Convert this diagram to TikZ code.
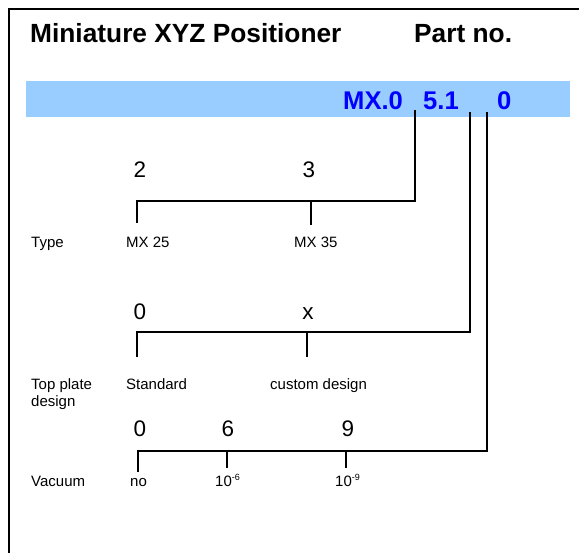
\documentclass[tikz,border=0pt]{standalone}
\usepackage{fontspec}
\setmainfont{Liberation Sans}
\definecolor{bandblue}{RGB}{153,204,255}
\definecolor{partblue}{RGB}{0,0,255}
\newcommand{\supsmall}[1]{\raisebox{6.5pt}{\fontsize{9}{9}\selectfont #1}}
\begin{document}
\begin{tikzpicture}[x=1pt,y=-1pt,
  titletext/.style={font=\fontsize{26.3}{30}\selectfont\bfseries, anchor=base west, inner sep=0},
  codetext/.style={font=\fontsize{25.6}{30}\selectfont\bfseries, text=partblue, anchor=base west, inner sep=0},
  digit/.style={font=\fontsize{22.5}{27}\selectfont, anchor=base, inner sep=0},
  lbl/.style={font=\fontsize{15}{17}\selectfont, anchor=base west, inner sep=0},
  wire/.style={line width=1.5pt},
]
\useasboundingbox (0,0) rectangle (579,553);
\draw[line width=1.8pt] (9,553) -- (9,9) -- (579,9);
\fill[bandblue] (26,81) rectangle (570,117);

\node[titletext] (title) at (30,43) {Miniature XYZ Positioner};
\node[titletext] (partno) at (414,43) {Part no.};
\node[codetext] (c1) at (343,110) {MX.0};
\node[codetext] (c2) at (423,110) {5.1};
\node[codetext] (c3) at (497,110) {0};

% Type
\node[digit] (t2) at (140,178) {2};
\node[digit] (t3) at (309,178) {3};
\node[lbl] (typel) at (31,248) {Type};
\node[lbl] (mx25) at (126,248) {MX 25};
\node[lbl] (mx35) at (294,248) {MX 35};
\coordinate (a0) at (415,110);
\coordinate (a1) at (415,201);
\coordinate (a2) at (137,201);
\coordinate (a3) at (137,223);
\coordinate (am1) at (311,201);
\coordinate (am2) at (311,225);
\draw[wire] (a0) -- (a1) -- (a2) -- (a3);
\draw[wire] (am1) -- (am2);

% Top plate
\node[digit] (p0) at (140,320) {0};
\node[digit] (px) at (308,320) {x};
\node[lbl] (tp1) at (31,390) {Top plate};
\node[lbl] (tp2) at (31,407) {design};
\node[lbl] (std) at (126,390) {Standard};
\node[lbl] (cust) at (270,390) {custom design};
\coordinate (b0) at (470,112);
\coordinate (b1) at (470,332);
\coordinate (b2) at (137,332);
\coordinate (b3) at (137,357);
\coordinate (bm1) at (307,332);
\coordinate (bm2) at (307,357);
\draw[wire] (b0) -- (b1) -- (b2) -- (b3);
\draw[wire] (bm1) -- (bm2);

% Vacuum
\node[digit] (v0) at (140,437) {0};
\node[digit] (v6) at (228,437) {6};
\node[digit] (v9) at (348,437) {9};
\node[lbl] (vac) at (31,487) {Vacuum};
\node[lbl] (vno) at (130,487) {no};
\node[lbl] (v10a) at (215,487) {10\supsmall{-6}};
\node[lbl] (v10b) at (335,487) {10\supsmall{-9}};
\coordinate (c0) at (487,112);
\coordinate (c1a) at (487,451);
\coordinate (c2a) at (138,451);
\coordinate (c3a) at (138,472);
\coordinate (cm1) at (227,451);
\coordinate (cm2) at (227,468);
\coordinate (cn1) at (346,451);
\coordinate (cn2) at (346,468);
\draw[wire] (c0) -- (c1a) -- (c2a) -- (c3a);
\draw[wire] (cm1) -- (cm2);
\draw[wire] (cn1) -- (cn2);
\end{tikzpicture}
\end{document}
